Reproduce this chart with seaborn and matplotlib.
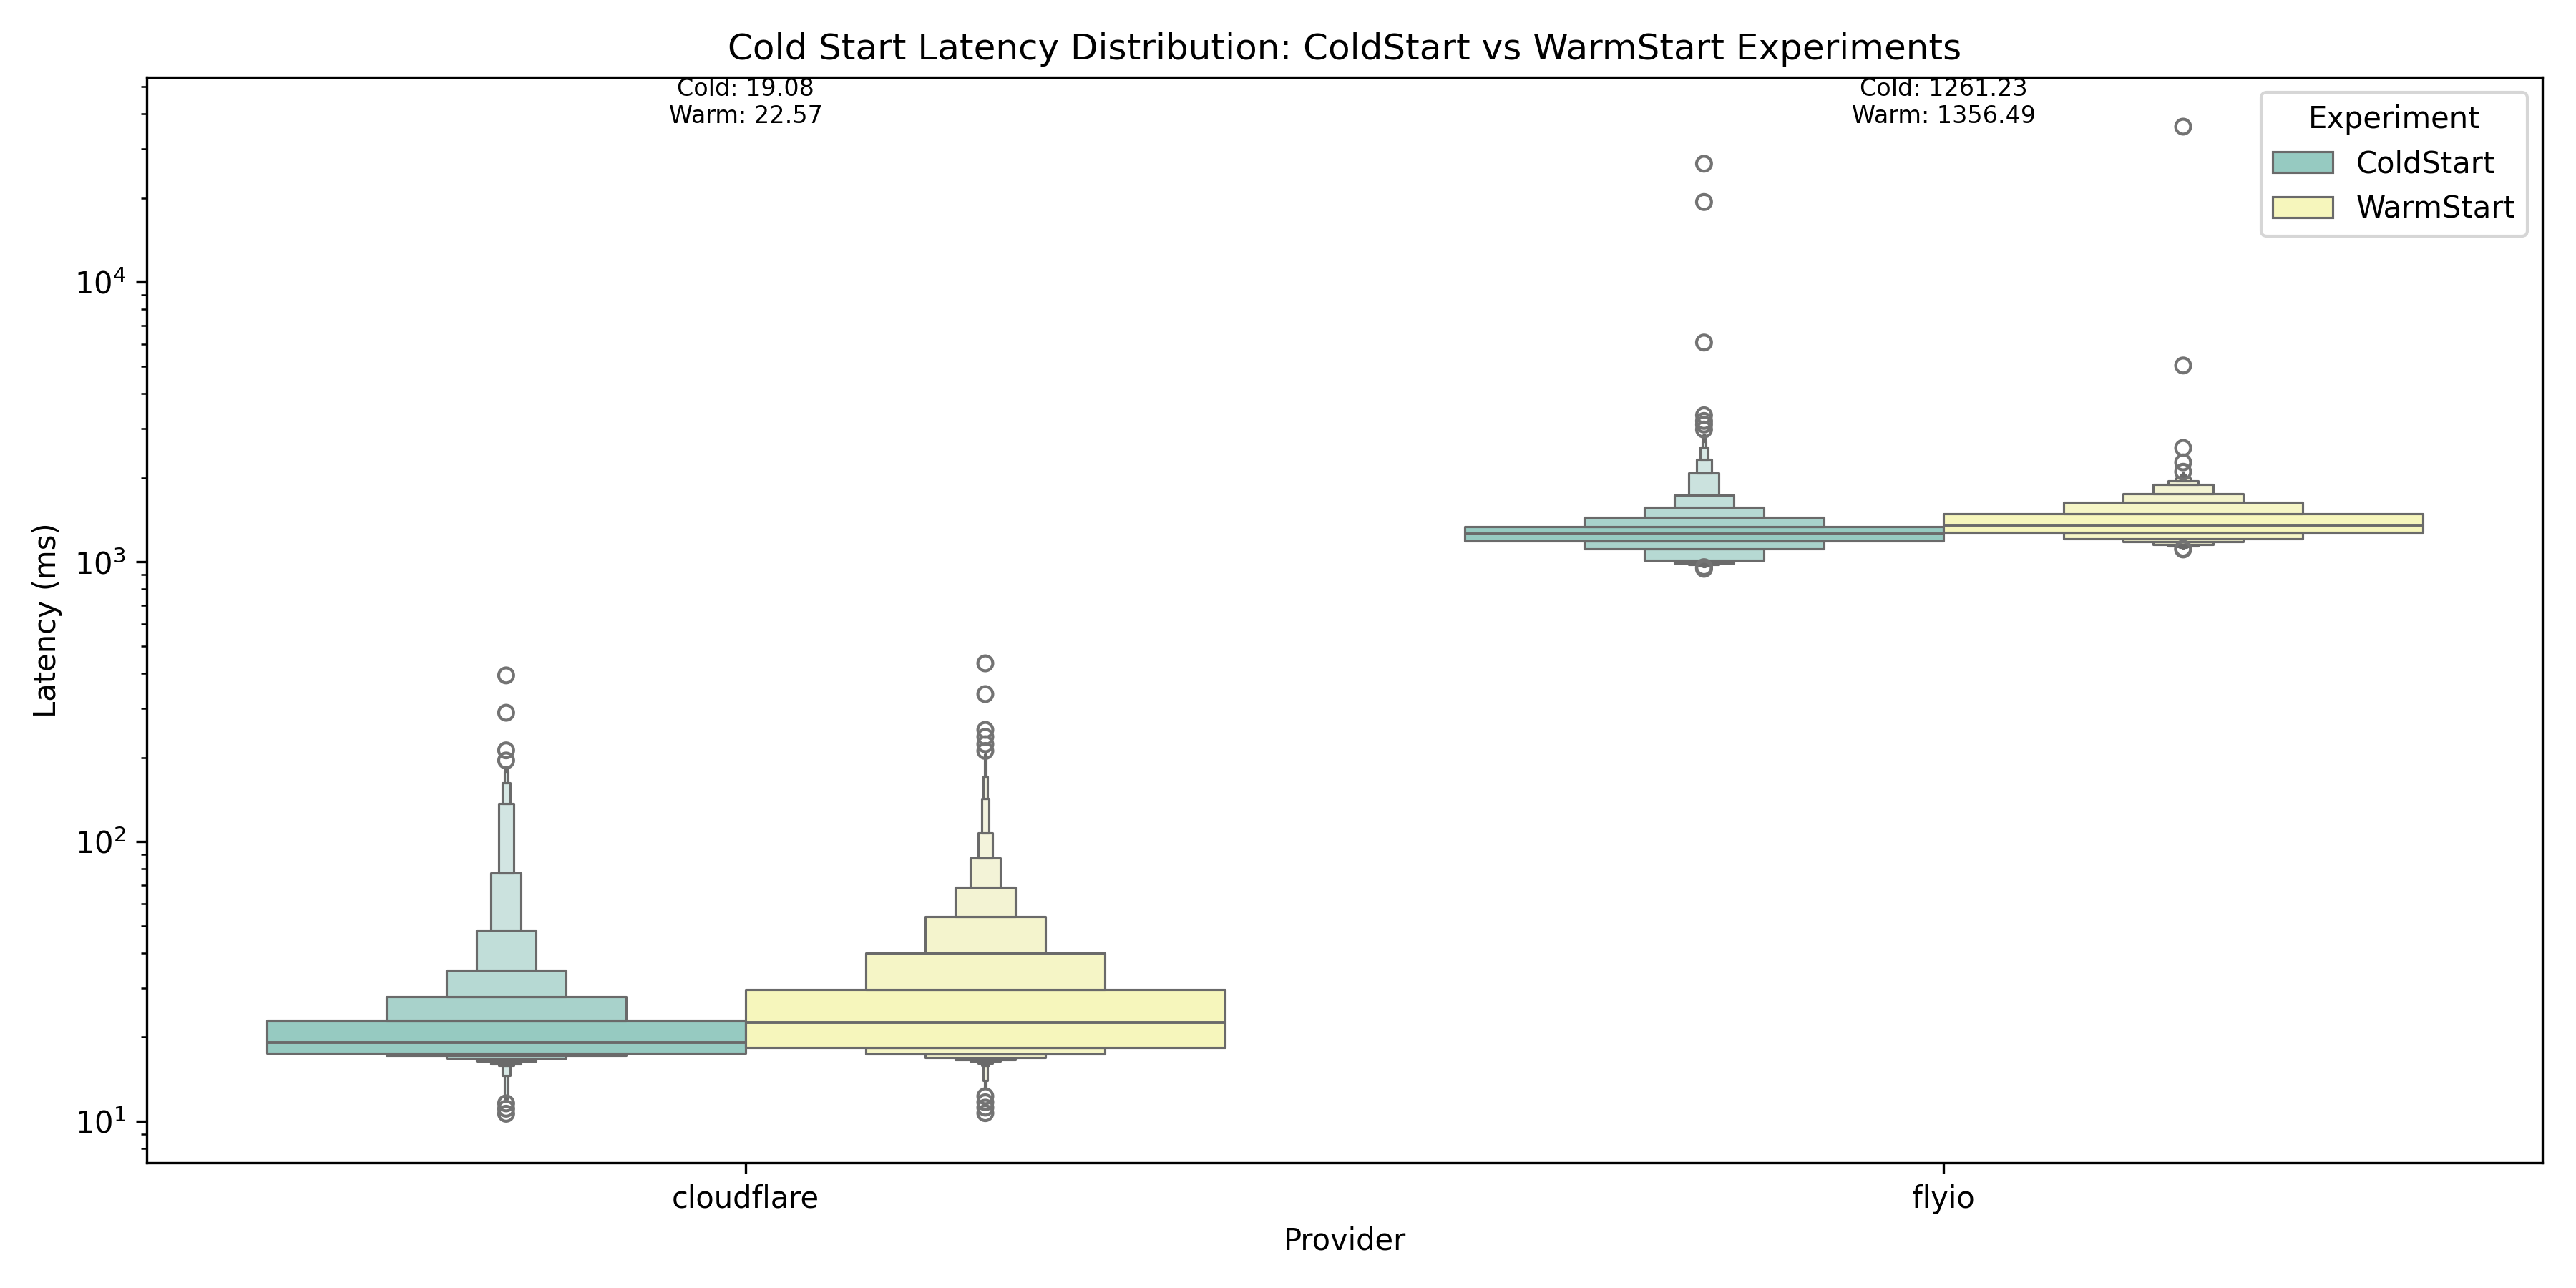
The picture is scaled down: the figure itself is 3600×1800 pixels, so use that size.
import numpy as np
import pandas as pd
import matplotlib
matplotlib.use("Agg")
import matplotlib.pyplot as plt
import seaborn as sns

# ---------------- data ----------------
providers = ["cloudflare", "flyio"]
experiments = ["ColdStart", "WarmStart"]
n_requests = 8000          # samples per provider/experiment (gives 9 letter-value levels)

# medians (ms)
cold_medians = [19.08, 1261.23]
warm_medians = [22.57, 1356.49]

# letter values below the median, outermost -> innermost (ms)
cf_cold_lower = [12.0, 12.3, 14.6, 15.83, 16.0, 16.4, 16.8, 17.2, 17.56]
cf_warm_lower = [13.1, 14.0, 15.8, 16.1, 16.4, 16.65, 16.89, 17.38, 18.34]
fly_cold_lower = [964, 966, 968, 971, 977, 992, 1012, 1112, 1190]
fly_warm_lower = [1122, 1125, 1128, 1132, 1138, 1156, 1179, 1212, 1273]

# letter values above the median, innermost -> outermost (ms)
cf_cold_upper = [22.9, 27.9, 34.7, 48.3, 77.3, 137, 162, 178, 185]
cf_warm_upper = [29.6, 40.0, 53.8, 68.5, 87.5, 107.3, 142.6, 171, 205]
fly_cold_upper = [1339, 1441, 1564, 1729, 2079, 2325, 2570, 2700, 2836]
fly_warm_upper = [1484, 1636, 1752, 1895, 1952, 1991, 2020, 2050, 2080]

# outliers (ms)
cf_cold_low_fliers = [10.65, 11.1, 11.6]
cf_cold_high_fliers = [195, 212, 289, 393]
cf_warm_low_fliers = [10.7, 11.2, 11.7, 12.3]
cf_warm_high_fliers = [211, 223, 237, 251, 337, 434]
fly_cold_low_fliers = [945, 952, 958]
fly_cold_high_fliers = [2974, 3099, 3191, 3344, 6086, 19360, 26530]
fly_warm_low_fliers = [1108, 1116]
fly_warm_high_fliers = [2101, 2270, 2556, 5039, 36000]


def expand(lower, median, upper, low_fliers, high_fliers, n):
    """Build a sample of n values whose letter values equal the given ones."""
    k = len(lower)
    p_low = 0.5 ** np.arange(k + 1, 1, -1)
    p_up = 1 - 0.5 ** np.arange(2, k + 2)
    probs = np.concatenate([p_low, [0.5], p_up])
    vals = np.concatenate([lower, [median], upper]).astype(float)
    pos = probs * (n - 1)
    idx = np.arange(n)
    nearest = np.abs(idx[:, None] - pos[None, :]).argmin(axis=1)
    sample = vals[nearest]
    sample[:len(low_fliers)] = sorted(low_fliers)
    sample[n - len(high_fliers):] = sorted(high_fliers)
    return sample


groups = [
    ("cloudflare", "ColdStart", cf_cold_lower, cold_medians[0], cf_cold_upper,
     cf_cold_low_fliers, cf_cold_high_fliers),
    ("cloudflare", "WarmStart", cf_warm_lower, warm_medians[0], cf_warm_upper,
     cf_warm_low_fliers, cf_warm_high_fliers),
    ("flyio", "ColdStart", fly_cold_lower, cold_medians[1], fly_cold_upper,
     fly_cold_low_fliers, fly_cold_high_fliers),
    ("flyio", "WarmStart", fly_warm_lower, warm_medians[1], fly_warm_upper,
     fly_warm_low_fliers, fly_warm_high_fliers),
]

frames = []
for prov, exp, lo, med, up, lf, hf in groups:
    s = expand(lo, med, up, lf, hf, n_requests)
    frames.append(pd.DataFrame({"Provider": prov, "Experiment": exp, "Latency": s}))
df = pd.concat(frames, ignore_index=True)

# ---------------- plot ----------------
fig, ax = plt.subplots(figsize=(12, 6), dpi=300)
sns.boxenplot(data=df, x="Provider", y="Latency", hue="Experiment",
              order=providers, hue_order=experiments, palette="Set3",
              log_scale=True, ax=ax)

ax.set_title("Cold Start Latency Distribution: ColdStart vs WarmStart Experiments")
ax.set_xlabel("Provider")
ax.set_ylabel("Latency (ms)")

ytop = ax.get_ylim()[1]
for i, prov in enumerate(providers):
    ax.text(i, ytop, f"Cold: {cold_medians[i]:.2f}\nWarm: {warm_medians[i]:.2f}",
            ha="center", va="top", fontsize=8)

sns.move_legend(ax, "upper right", title="Experiment")

fig.subplots_adjust(left=0.057, right=0.987, top=0.94, bottom=0.097)
fig.savefig("out.png", dpi=300)
